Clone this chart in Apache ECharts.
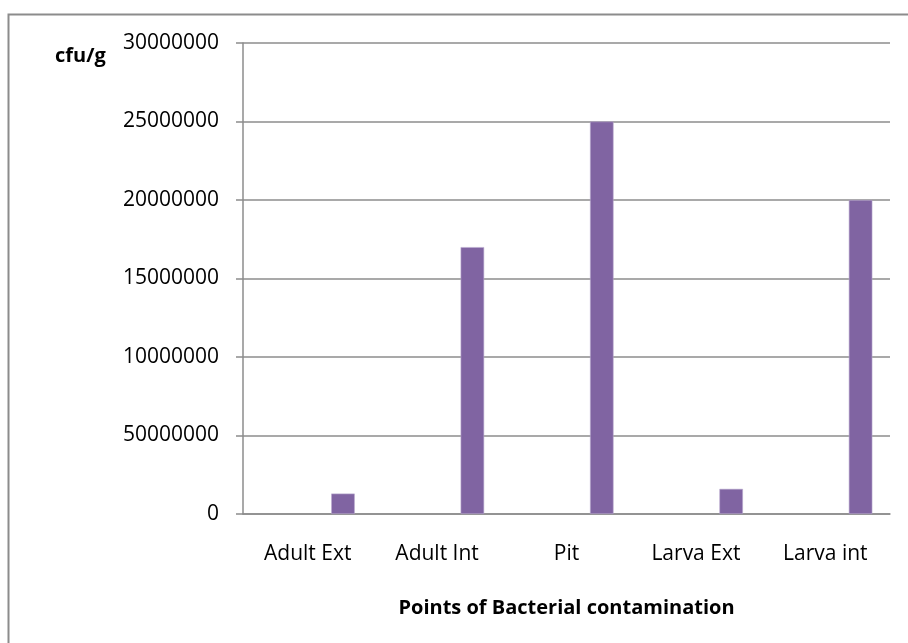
<!DOCTYPE html>
<html>
<head>
<meta charset="utf-8">
<script src="https://cdn.jsdelivr.net/npm/echarts@6/dist/echarts.min.js"></script>
<style>
  html, body { margin: 0; padding: 0; background: #fff; }
  #chart { width: 908px; height: 643px; }
</style>
</head>
<body>
<div id="chart"></div>
<script>
  // categories on the x axis
  const categories = ['Adult Ext', 'Adult Int', 'Pit', 'Larva Ext', 'Larva int'];
  // three empty series hold the slots to the left of the drawn bar
  const series1 = [null, null, null, null, null];
  const series2 = [null, null, null, null, null];
  const series3 = [null, null, null, null, null];
  // counts in cfu/g
  const counts = [1300000, 17000000, 25000000, 1600000, 20000000];
  // y tick labels as printed (the second one has an extra zero in the source)
  const yTickLabels = ['0', '50000000', '10000000', '15000000', '20000000', '25000000', '30000000'];

  const chart = echarts.init(document.getElementById('chart'));
  const font = '"Open Sans", sans-serif';
  const gridColor = '#8c8c8c';

  const barSeries = [series1, series2, series3, counts].map(function (d) {
    return {
      type: 'bar',
      data: d,
      barGap: '0%',
      barCategoryGap: '27.3%',
      itemStyle: { color: '#8064a2', borderColor: '#b9a9cf', borderWidth: 0.6 }
    };
  });

  chart.setOption({
    backgroundColor: '#fff',
    animation: false,
    title: {
      text: 'cfu/g',
      left: 50,
      top: 41,
      textStyle: { fontFamily: font, fontWeight: 'bold', fontSize: 20, color: '#000' }
    },
    graphic: [{
      type: 'polyline',
      shape: { points: [[8.5, 643], [8.5, 14.5], [908, 14.5]] },
      style: { stroke: '#8c8c8c', lineWidth: 2, fill: null }
    }],
    grid: { left: 243, right: 18, top: 43, bottom: 129 },
    xAxis: {
      type: 'category',
      data: categories,
      name: 'Points of Bacterial contamination',
      nameLocation: 'middle',
      nameGap: 84,
      nameTextStyle: { fontFamily: font, fontWeight: 'bold', fontSize: 20, color: '#000' },
      axisLine: { lineStyle: { color: gridColor, width: 1.5 } },
      axisTick: { length: 7, lineStyle: { color: gridColor, width: 1.5 } },
      axisLabel: { margin: 30, fontFamily: font, fontSize: 21, color: '#000' }
    },
    yAxis: {
      type: 'value',
      min: 0,
      max: 30000000,
      interval: 5000000,
      axisLine: { show: true, lineStyle: { color: gridColor, width: 1.5 } },
      axisTick: { show: true, length: 7, lineStyle: { color: gridColor, width: 1.5 } },
      splitLine: { lineStyle: { color: gridColor, width: 1.5 } },
      axisLabel: {
        margin: 24,
        fontFamily: font,
        fontSize: 21,
        color: '#000',
        formatter: function (v) {
          return yTickLabels[Math.round(v / 5000000)];
        }
      }
    },
    series: barSeries
  });
</script>
</body>
</html>
